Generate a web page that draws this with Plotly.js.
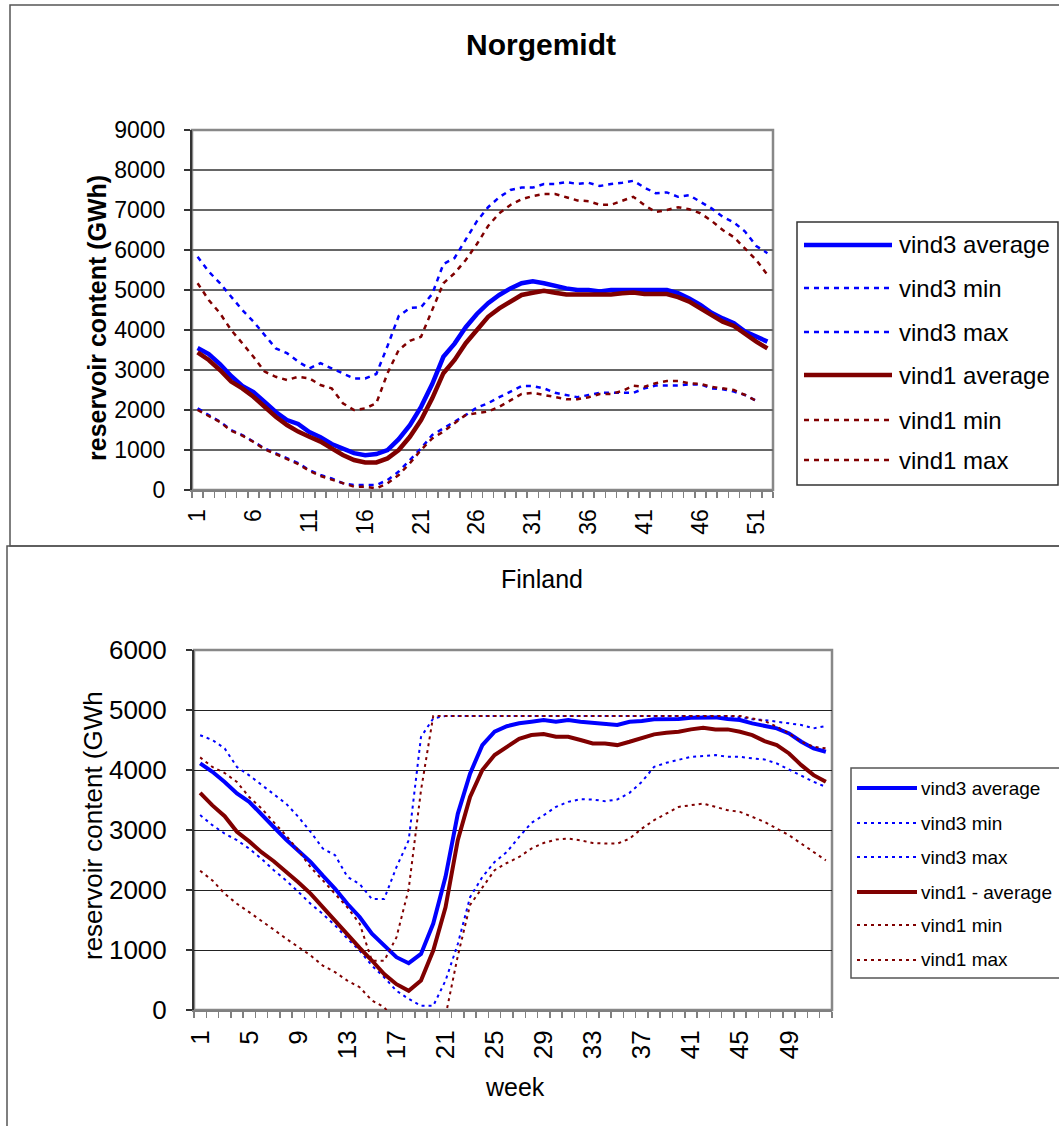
<!DOCTYPE html>
<html><head><meta charset="utf-8">
<script src="https://cdn.plot.ly/plotly-3.0.1.min.js"></script>
<style>html,body{margin:0;padding:0;background:#fff}#chart{width:1059px;height:1126px}</style>
</head><body><div id="chart"></div>
<script>
// ---------- data ----------
const weeks = [1,2,3,4,5,6,7,8,9,10,11,12,13,14,15,16,17,18,19,20,21,22,23,24,25,26,27,28,29,30,31,32,33,34,35,36,37,38,39,40,41,42,43,44,45,46,47,48,49,50,51,52];

const topTitle = "Norgemidt";
const topYTitle = "reservoir content (GWh)";
const topTickVals = [1,6,11,16,21,26,31,36,41,46,51];
const topNames = ["vind3 average","vind3 min","vind3 max","vind1 average","vind1 min","vind1 max"];

const nVind3Avg = [3550,3400,3150,2850,2600,2450,2200,1950,1750,1650,1450,1320,1150,1020,920,870,900,1000,1270,1620,2080,2650,3330,3660,4070,4400,4670,4875,5040,5170,5220,5170,5100,5040,5000,5000,4960,5000,5000,5000,5000,5000,5000,4920,4790,4625,4430,4290,4170,3960,3820,3710];
const nVind3Min = [2040,1875,1710,1500,1375,1210,1040,917,790,670,500,375,290,170,125,125,125,250,460,750,1040,1375,1540,1710,1875,2060,2170,2320,2460,2600,2600,2540,2430,2375,2320,2375,2430,2430,2430,2430,2540,2610,2610,2610,2640,2640,2540,2520,2460,2375,2230,null];
const nVind3Max = [5830,5460,5170,4830,4500,4210,3875,3540,3420,3210,3040,3170,3040,2920,2790,2790,2900,3600,4350,4550,4570,4900,5650,5800,6250,6720,7070,7320,7500,7560,7560,7650,7650,7700,7650,7680,7600,7650,7680,7730,7560,7420,7440,7330,7370,7200,7040,6830,6690,6460,6100,5920];
const nVind1Avg = [3440,3250,3000,2710,2540,2330,2080,1830,1625,1460,1330,1210,1040,875,750,690,690,790,1000,1330,1750,2290,2920,3250,3670,4020,4330,4540,4710,4875,4930,4980,4930,4890,4890,4890,4890,4890,4920,4940,4900,4900,4900,4820,4710,4540,4375,4210,4100,3890,3710,3540];
const nVind1Min = [2000,1850,1700,1480,1360,1200,1020,900,770,650,480,350,260,170,83,83,40,170,375,670,1000,1290,1460,1670,1875,1920,1960,2080,2230,2400,2430,2375,2320,2270,2270,2320,2400,2400,2475,2610,2580,2670,2725,2725,2670,2650,2580,2540,2500,2375,2230,null];
const nVind1Max = [5170,4750,4420,4000,3670,3330,2960,2830,2750,2830,2790,2625,2540,2170,2000,2040,2170,2920,3500,3730,3830,4500,5170,5420,5750,6150,6600,6920,7125,7270,7350,7400,7400,7320,7240,7220,7130,7130,7230,7330,7120,6950,7000,7070,7020,6920,6730,6500,6320,6040,5750,5375];

const botTitle = "Finland";
const botYTitle = "reservoir content (GWh";
const botXTitle = "week";
const botTickVals = [1,5,9,13,17,21,25,29,33,37,41,45,49];
const botNames = ["vind3 average","vind3 min","vind3 max","vind1 - average","vind1 min","vind1 max"];

const fVind3Avg = [4110,3970,3800,3610,3470,3270,3050,2840,2650,2470,2240,2020,1770,1550,1270,1075,880,780,935,1440,2220,3270,3940,4415,4640,4730,4780,4805,4833,4805,4833,4805,4788,4777,4750,4805,4816,4844,4844,4850,4872,4877,4877,4850,4833,4777,4733,4694,4610,4471,4360,4304];
const fVind3Min = [3250,3080,2940,2830,2690,2520,2330,2160,1970,1770,1600,1410,1190,990,740,545,320,185,70,70,490,1100,1880,2216,2467,2634,2884,3118,3246,3385,3469,3513,3508,3480,3508,3619,3803,4053,4120,4165,4220,4232,4248,4220,4220,4193,4176,4109,4009,3914,3803,3719];
const fVind3Max = [4580,4500,4360,4050,3910,3750,3600,3440,3220,2970,2690,2580,2220,2100,1850,1850,2380,2830,4550,4860,4900,4900,4900,4900,4900,4900,4900,4900,4900,4900,4900,4900,4900,4900,4900,4900,4900,4900,4900,4900,4900,4900,4900,4900,4877,4844,4833,4805,4788,4750,4694,4733];
const fVind1Avg = [3620,3410,3230,2970,2810,2630,2480,2310,2130,1940,1710,1490,1260,1035,825,600,430,320,490,990,1710,2830,3550,4000,4250,4390,4520,4582,4600,4555,4555,4500,4443,4443,4415,4471,4538,4594,4621,4638,4677,4705,4677,4677,4638,4582,4482,4415,4276,4081,3914,3803];
const fVind1Min = [2320,2160,1940,1770,1630,1490,1340,1190,1050,910,740,630,490,380,160,45,-200,-200,-200,-200,-100,900,1750,2050,2330,2450,2550,2690,2784,2840,2856,2828,2784,2773,2773,2856,3023,3163,3274,3385,3413,3441,3385,3330,3302,3218,3135,3023,2912,2773,2634,2494];
const fVind1Max = [4210,4050,3950,3800,3550,3360,3130,2910,2660,2380,2160,1940,1710,1440,820,820,1210,2020,3660,4900,4900,4900,4900,4900,4900,4900,4900,4900,4900,4900,4900,4900,4900,4900,4900,4900,4900,4900,4900,4900,4900,4900,4900,4900,4900,4860,4816,4722,4610,4471,4388,4360];

// ---------- styling ----------
const W = 1059, H = 1126;
const fx = p => p / W;
const fy = p => 1 - p / H;
const BLUE = "#0000FF", RED = "#800000";
const FONT = "Arial, 'Liberation Sans', sans-serif";

const topStyles = [
  {color: BLUE, width: 4.5, dash: "solid"},
  {color: BLUE, width: 2.5, dash: "5px,5px"},
  {color: BLUE, width: 2.5, dash: "5px,5px"},
  {color: RED, width: 4.5, dash: "solid"},
  {color: RED, width: 2.5, dash: "5px,5px"},
  {color: RED, width: 2.5, dash: "5px,5px"}
];
const botStyles = [
  {color: BLUE, width: 4, dash: "solid"},
  {color: BLUE, width: 2, dash: "3px,4px"},
  {color: BLUE, width: 2, dash: "3px,4px"},
  {color: RED, width: 4, dash: "solid"},
  {color: RED, width: 2, dash: "3px,4px"},
  {color: RED, width: 2, dash: "3px,4px"}
];

const topSeries = [nVind3Avg, nVind3Min, nVind3Max, nVind1Avg, nVind1Min, nVind1Max];
const botSeries = [fVind3Avg, fVind3Min, fVind3Max, fVind1Avg, fVind1Min, fVind1Max];

const traces = [];
topSeries.forEach((s, i) => traces.push({
  type: "scatter", mode: "lines", x: weeks, y: s, name: topNames[i],
  xaxis: "x", yaxis: "y", line: topStyles[i], showlegend: false, connectgaps: false
}));
botSeries.forEach((s, i) => traces.push({
  type: "scatter", mode: "lines", x: weeks, y: s, name: botNames[i],
  xaxis: "x2", yaxis: "y2", line: botStyles[i], showlegend: false, connectgaps: false
}));

const boundaries = [];
for (let k = 0; k <= weeks.length; k++) boundaries.push(k + 0.5);

function xAxis(domain, tickvals, fontSize, anchor) {
  return {
    domain: domain, anchor: anchor, range: [0.5, 52.5], tickmode: "array",
    tickvals: tickvals, ticktext: tickvals.map(String), tickangle: -90,
    ticks: "", showgrid: false, zeroline: false, showline: true,
    linecolor: "#808080", linewidth: 2, ticklabelstandoff: 8,
    tickfont: {family: FONT, size: fontSize, color: "#000"},
    minor: {tickmode: "array", tickvals: boundaries, ticks: "outside", ticklen: 6,
            tickcolor: "#808080", tickwidth: 1.5, showgrid: false}
  };
}
function yAxis(domain, range, fontSize, anchor, gridcolor, gridwidth) {
  return {
    domain: domain, anchor: anchor, range: range, dtick: 1000, tick0: 0,
    ticks: "outside", ticklen: 6, tickcolor: "#333", tickwidth: 1.5,
    showgrid: true, gridcolor: gridcolor, gridwidth: gridwidth, zeroline: false,
    showline: true, linecolor: "#333", linewidth: 2, ticklabelstandoff: 14,
    tickfont: {family: FONT, size: fontSize, color: "#000"}
  };
}

const shapes = [
  // outer chart frames
  {type: "rect", xref: "paper", yref: "paper", x0: fx(10), x1: fx(1075), y0: fy(546), y1: fy(5),
   line: {color: "#555", width: 1.5}},
  {type: "rect", xref: "paper", yref: "paper", x0: fx(7), x1: fx(1075), y0: fy(1140), y1: fy(546),
   line: {color: "#555", width: 1.5}},
  // plot area borders
  {type: "rect", xref: "x domain", yref: "y domain", x0: 0, x1: 1, y0: 0, y1: 1,
   line: {color: "#888", width: 2.5}, layer: "below"},
  {type: "rect", xref: "x2 domain", yref: "y2 domain", x0: 0, x1: 1, y0: 0, y1: 1,
   line: {color: "#888", width: 2.5}, layer: "below"},
  // legend boxes
  {type: "rect", xref: "paper", yref: "paper", x0: fx(797), x1: fx(1058), y0: fy(485), y1: fy(222),
   line: {color: "#333", width: 1.5}, fillcolor: "rgba(0,0,0,0)"},
  {type: "rect", xref: "paper", yref: "paper", x0: fx(851), x1: fx(1075), y0: fy(978), y1: fy(768),
   line: {color: "#555", width: 1.5}, fillcolor: "rgba(0,0,0,0)"}
];

const annotations = [
  {text: "<b>" + topTitle + "</b>", xref: "paper", yref: "paper", x: fx(541), y: fy(45),
   showarrow: false, font: {family: FONT, size: 30, color: "#000"}, xanchor: "center", yanchor: "middle"},
  {text: botTitle, xref: "paper", yref: "paper", x: fx(542), y: fy(579),
   showarrow: false, font: {family: FONT, size: 25, color: "#000"}, xanchor: "center", yanchor: "middle"},
  {text: "<b>" + topYTitle + "</b>", xref: "paper", yref: "paper", x: fx(97), y: fy(318), textangle: -90,
   showarrow: false, font: {family: FONT, size: 25, color: "#000"}, xanchor: "center", yanchor: "middle"},
  {text: botYTitle, xref: "paper", yref: "paper", x: fx(93), y: fy(826), textangle: -90,
   showarrow: false, font: {family: FONT, size: 26, color: "#000"}, xanchor: "center", yanchor: "middle"},
  {text: botXTitle, xref: "paper", yref: "paper", x: fx(515), y: fy(1087),
   showarrow: false, font: {family: FONT, size: 25, color: "#000"}, xanchor: "center", yanchor: "middle"}
];

// custom legends (long line samples like the original)
const topLegY = [245, 288, 332, 375, 420, 460];
topNames.forEach((n, i) => {
  shapes.push({type: "line", xref: "paper", yref: "paper", x0: fx(804), x1: fx(892), y0: fy(topLegY[i]), y1: fy(topLegY[i]),
    line: {color: topStyles[i].color, width: topStyles[i].width, dash: topStyles[i].dash}});
  annotations.push({text: n, xref: "paper", yref: "paper", x: fx(897), y: fy(topLegY[i]), xanchor: "left", yanchor: "middle",
    showarrow: false, font: {family: FONT, size: 24, color: "#000"}});
});
const botLegY = [788, 823, 857, 892, 925, 960];
botNames.forEach((n, i) => {
  shapes.push({type: "line", xref: "paper", yref: "paper", x0: fx(857), x1: fx(917), y0: fy(botLegY[i]), y1: fy(botLegY[i]),
    line: {color: botStyles[i].color, width: botStyles[i].width, dash: botStyles[i].dash}});
  annotations.push({text: n, xref: "paper", yref: "paper", x: fx(919), y: fy(botLegY[i]), xanchor: "left", yanchor: "middle",
    showarrow: false, font: {family: FONT, size: 19, color: "#000"}});
});

const layout = {
  width: W, height: H, margin: {l: 0, r: 0, t: 0, b: 0},
  paper_bgcolor: "#fff", plot_bgcolor: "#fff", showlegend: false,
  xaxis: xAxis([fx(192), fx(773)], topTickVals, 23, "y"),
  yaxis: yAxis([fy(490), fy(130)], [0, 9000], 23, "x", "#666", 1.5),
  xaxis2: xAxis([fx(194), fx(832)], botTickVals, 26, "y2"),
  yaxis2: yAxis([fy(1010), fy(650)], [0, 6000], 26, "x2", "#222", 1),
  shapes: shapes, annotations: annotations
};

Plotly.newPlot("chart", traces, layout, {displayModeBar: false, staticPlot: true});
</script>
</body></html>
